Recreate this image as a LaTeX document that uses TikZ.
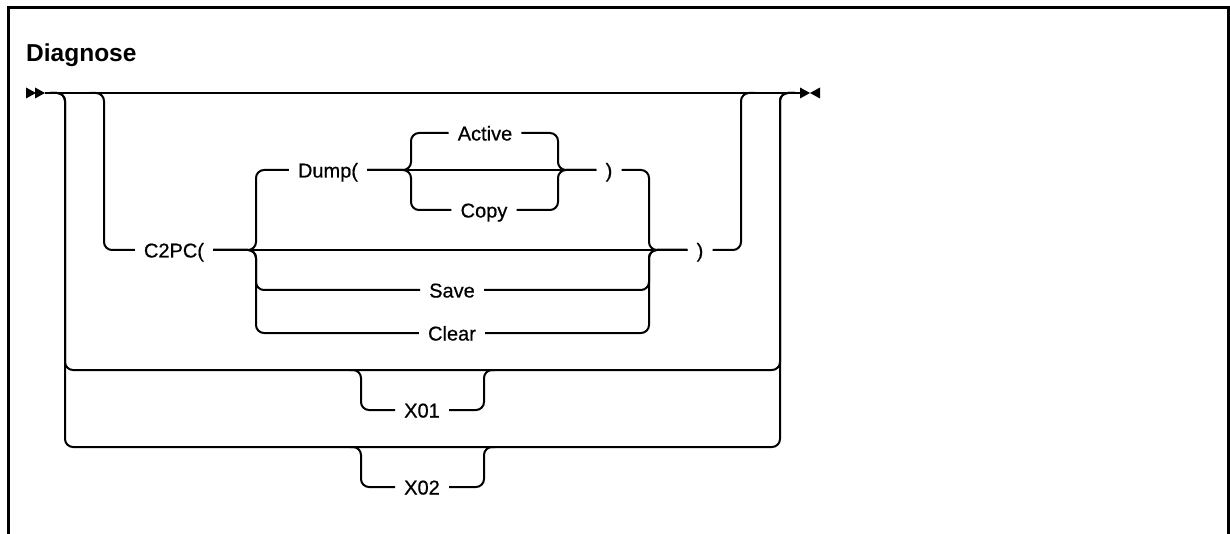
\documentclass[tikz,border=0pt]{standalone}
\usepackage{fontspec}
\setmainfont{Liberation Sans}
\newfontfamily\railfont{Liberation Sans}[FakeBold=0.6]
\usepackage{tikz}
\tikzstyle{rail}=[
        line width = 2pt,
        rounded corners = 8pt
    ]
\tikzstyle{term}=[
    font = \railfont\fontsize{20}{24}\selectfont,
    inner xsep = 9pt,
    inner ysep = 0pt,
    text height = 15pt,
    text depth = 0pt
]

\begin{document}
\begin{tikzpicture}[x=1pt, y=-1pt]
        \useasboundingbox (0,0) rectangle (1230,534);
        \draw[line width = 3pt] (8,534) -- (8,8) -- (1228,8) -- (1228,534);
        \node[anchor = base west, inner sep = 0pt, font = \fontsize{24.5}{28}\selectfont\bfseries] (title) at (26,62) {Diagnose};

        \coordinate (start) at (45,93);
        \coordinate (end) at (800,93);
        \fill (start) ++(-19,-5.5) -- ++(10,5.5) -- ++(-10,5.5) -- cycle;
        \fill (start) ++(-10,-5.5) -- ++(10,5.5) -- ++(-10,5.5) -- cycle;
        \fill (end) ++(0,-5.5) -- ++(10,5.5) -- ++(-10,5.5) -- cycle;
        \fill (end) ++(20,-5.5) -- ++(-10,5.5) -- ++(10,5.5) -- cycle;

        \node[term] (c2pc) at (174,250) {C2PC(};
        \node[term] (dump) at (328,170) {Dump(};
        \node[term] (active) at (485,133) {Active};
        \node[term] (copy) at (484,210) {Copy};
        \node[term] (dclose) at (609,170) {)};
        \node[term] (save) at (452,290) {Save};
        \node[term] (clear) at (452,333) {Clear};
        \node[term] (cclose) at (700,250) {)};
        \node[term] (x01) at (422,410) {X01};
        \node[term] (x02) at (422,487) {X02};

        \draw[rail] (start) -- (end);
        \draw[rail] (50,93) -- (65,93) -- (65,370) -- (780,370) -- (780,93) -- (795,93);
        \draw[rail] (50,93) -- (65,93) -- (65,447) -- (780,447) -- (780,93) -- (795,93);
        \draw[rail] (350,370) -- (361,370) -- (361,410) -- (x01.west);
        \draw[rail] (x01.east) -- (484,410) -- (484,370) -- (495,370);
        \draw[rail] (350,447) -- (361,447) -- (361,487) -- (x02.west);
        \draw[rail] (x02.east) -- (484,487) -- (484,447) -- (495,447);

        \draw[rail] (90,93) -- (104,93) -- (104,250) -- (c2pc.west);
        \draw[rail] (c2pc.east) -- (cclose.west);
        \draw[rail] (cclose.east) -- (741,250) -- (741,93) -- (755,93);
        \draw[rail] (c2pc.east) -- (256,250) -- (256,170) -- (dump.west);
        \draw[rail] (dclose.east) -- (649,170) -- (649,250) -- (cclose.west);
        \draw[rail] (c2pc.east) -- (256,250) -- (256,290) -- (save.west);
        \draw[rail] (save.east) -- (649,290) -- (649,250) -- (cclose.west);
        \draw[rail] (c2pc.east) -- (256,250) -- (256,333) -- (clear.west);
        \draw[rail] (clear.east) -- (649,333) -- (649,250) -- (cclose.west);

        \draw[rail] (dump.east) -- (dclose.west);
        \draw[rail] (dump.east) -- (411,170) -- (411,133) -- (active.west);
        \draw[rail] (active.east) -- (558,133) -- (558,170) -- (dclose.west);
        \draw[rail] (dump.east) -- (411,170) -- (411,210) -- (copy.west);
        \draw[rail] (copy.east) -- (558,210) -- (558,170) -- (dclose.west);

    \end{tikzpicture}
\end{document}
